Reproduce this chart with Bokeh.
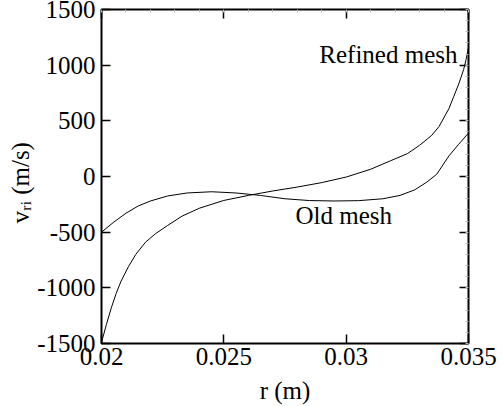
from bokeh.plotting import figure
from bokeh.models import (Range1d, LinearAxis, FixedTicker, CustomJSTickFormatter, Label)
from bokeh.embed import file_html
from bokeh.resources import INLINE

# ---- data ----
refined_r = [0.0200, 0.0202, 0.0204, 0.0206, 0.0208, 0.0211, 0.0214, 0.0218, 0.0222,
             0.0227, 0.0233, 0.0240, 0.0250, 0.0260, 0.0270, 0.0280, 0.0290, 0.0300,
             0.0310, 0.0318, 0.0325, 0.0330, 0.0335, 0.0338, 0.0342, 0.0344, 0.0346,
             0.0348, 0.0349, 0.0350]
refined_v = [-1490, -1330, -1180, -1050, -940, -810, -700, -590, -515,
             -440, -355, -285, -215, -170, -130, -95, -55, -5,
             65, 140, 205, 280, 370, 450, 610, 720, 830,
             960, 1050, 1160]

old_r = [0.0200, 0.0205, 0.0210, 0.0215, 0.0220, 0.0227, 0.0235, 0.0245, 0.0255,
         0.0265, 0.0275, 0.0285, 0.0295, 0.0305, 0.0315, 0.0322, 0.0328, 0.0333,
         0.0337, 0.0342, 0.0346, 0.0350]
old_v = [-500, -410, -330, -265, -220, -175, -148, -137, -148,
         -170, -200, -216, -220, -217, -200, -170, -120, -50,
         20, 185, 290, 390]

x_ticks = [0.02, 0.025, 0.03, 0.035]
y_ticks = [-1500, -1000, -500, 0, 500, 1000, 1500]
x_minor = [0.020 + 0.001 * i for i in range(16)]
y_minor = [-1500 + 100 * i for i in range(31)]

x_title = "r (m)"
y_title = "v\u1d63\u1d62 (m/s)\u00a0\u00a0"

FONT = "Liberation Serif"
FS = "25px"

p = figure(width=503, height=406, output_backend="svg", toolbar_location=None,
           x_range=Range1d(0.02, 0.035), y_range=Range1d(-1500, 1500),
           min_border_left=101, min_border_right=35, min_border_top=9,
           min_border_bottom=62, x_axis_location=None, y_axis_location=None)
p.xgrid.visible = False
p.ygrid.visible = False
p.outline_line_color = "black"
p.outline_line_width = 2
p.background_fill_color = "white"
p.border_fill_color = "white"

fmt = CustomJSTickFormatter(code="return tick.toString();")
blank = CustomJSTickFormatter(code="return '';")


def style(ax, labels=True, minor=False):
    ax.axis_line_color = None
    ax.major_tick_in = 9
    ax.major_tick_out = 0
    ax.major_tick_line_width = 1.5
    ax.major_tick_line_color = "black"
    if minor:
        ax.minor_tick_in = 3
        ax.minor_tick_out = 0
        ax.minor_tick_line_color = "#bbbbbb"
    else:
        ax.minor_tick_line_color = None
    if labels:
        ax.major_label_text_font = FONT
        ax.major_label_text_font_size = FS
        ax.major_label_text_color = "black"
        ax.axis_label_text_font = FONT
        ax.axis_label_text_font_size = FS
        ax.axis_label_text_font_style = "normal"
        ax.axis_label_text_color = "black"
    else:
        ax.major_label_text_font_size = "0px"


left = LinearAxis(ticker=FixedTicker(ticks=y_ticks), formatter=fmt, axis_label=y_title)
style(left)
left.major_label_standoff = 6
left.axis_label_standoff = 0
p.add_layout(left, "left")

bottom = LinearAxis(ticker=FixedTicker(ticks=x_ticks), formatter=fmt, axis_label=x_title)
style(bottom)
bottom.major_label_standoff = 4
bottom.axis_label_standoff = 9
p.add_layout(bottom, "below")

right = LinearAxis(ticker=FixedTicker(ticks=y_ticks, minor_ticks=y_minor), formatter=blank)
style(right, labels=False, minor=True)
p.add_layout(right, "right")

top = LinearAxis(ticker=FixedTicker(ticks=x_ticks, minor_ticks=x_minor), formatter=blank)
style(top, labels=False, minor=True)
p.add_layout(top, "above")

p.line(refined_r, refined_v, line_color="black", line_width=1)
p.line(old_r, old_v, line_color="black", line_width=1)

p.add_layout(Label(x=0.03455, y=1095, text="Refined mesh", text_align="right",
                   text_baseline="alphabetic", text_font=FONT, text_font_size=FS,
                   text_color="black"))
p.add_layout(Label(x=0.02793, y=-347, text="Old mesh", text_align="left",
                   text_baseline="alphabetic", text_font=FONT, text_font_size=FS,
                   text_color="black"))

open("out.html", "w").write(file_html(p, INLINE))
